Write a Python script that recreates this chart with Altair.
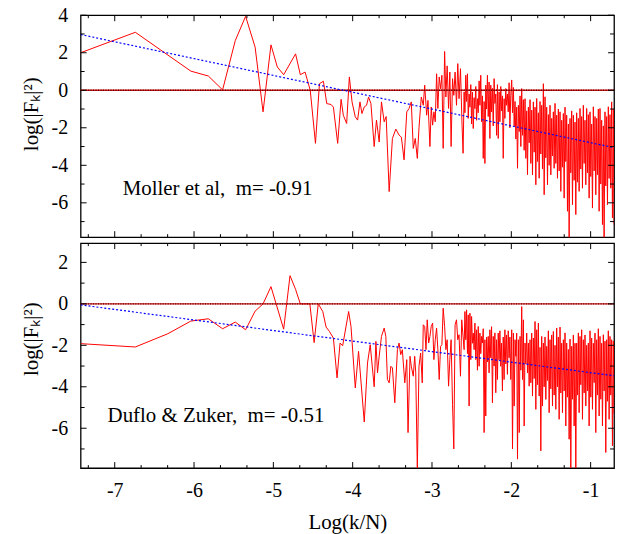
import altair as alt
import pandas as pd

X_DOMAIN = [-7.43, -0.705]
TOP_Y_DOMAIN = [-7.83, 4.0]
BOT_Y_DOMAIN = [-7.92, 2.93]

# (Log(k/N), log(|F_k|^2)) - Moller et al, low-k part (x < -2.6)
moller_points = [
    (-7.43, 2.00), (-6.74, 3.09), (-6.04, 1.02), (-5.82, 0.76), (-5.64, 0.02),
    (-5.48, 2.65), (-5.35, 3.94), (-5.23, 2.30), (-5.13, -1.15), (-5.03, 2.42),
    (-4.95, 1.24), (-4.87, 0.83), (-4.72, 1.94), (-4.66, 0.83), (-4.60, 0.97),
    (-4.535, 0.00), (-4.469, -2.83), (-4.419, 0.35), (-4.369, 0.48), (-4.327, -0.71),
    (-4.272, -0.76), (-4.243, -0.90), (-4.189, -2.83), (-4.146, -0.48), (-4.118, -1.33),
    (-4.076, -1.77), (-4.042, 0.71), (-4.008, -0.62), (-3.967, -1.42), (-3.938, -1.59),
    (-3.908, -0.62), (-3.883, -1.24), (-3.854, -0.89), (-3.825, -0.80), (-3.800, -0.36),
    (-3.770, -0.71), (-3.729, -3.00), (-3.700, -1.59), (-3.666, -2.76), (-3.637, -0.62),
    (-3.603, -1.68), (-3.578, -1.40), (-3.540, -5.40), (-3.499, -2.57), (-3.456, -2.07),
    (-3.415, -2.39), (-3.386, -2.50), (-3.352, -3.71), (-3.318, -1.15), (-3.289, -0.97),
    (-3.261, -0.62), (-3.236, -3.10), (-3.211, -2.57), (-3.185, -3.63), (-3.164, -2.00),
    (-3.135, -0.36), (-3.110, -0.80), (-3.092, 0.27), (-3.067, -1.33), (-3.051, -0.54),
    (-3.026, -3.00), (-3.010, -0.89), (-2.992, -1.86), (-2.976, -1.15), (-2.959, -1.68),
    (-2.942, 0.88), (-2.926, -0.97), (-2.909, 0.71), (-2.892, 0.08), (-2.875, 0.80),
    (-2.859, -3.10), (-2.841, 2.07), (-2.825, -0.36), (-2.809, 1.30), (-2.791, -0.97),
    (-2.775, 0.97), (-2.759, -3.00), (-2.741, 0.62), (-2.725, -0.27), (-2.709, 0.97),
    (-2.691, -0.80), (-2.675, 1.42), (-2.659, -0.45), (-2.641, 1.15), (-2.621, -1.86),
    (-2.608, -3.36),
]

# Duflo & Zuker, low-k part (x < -2.6)
duflo_points = [
    (-7.43, -1.92), (-6.74, -2.08), (-6.33, -1.44), (-6.04, -0.83), (-5.82, -0.72),
    (-5.64, -1.20), (-5.48, -0.88), (-5.35, -1.25), (-5.23, -0.35), (-5.13, 0.00),
    (-5.03, 0.83), (-4.87, -1.22), (-4.79, 1.36), (-4.72, 0.70), (-4.66, 0.00),
    (-4.60, 0.00), (-4.54, 0.00), (-4.486, -1.87), (-4.434, 0.00), (-4.377, -0.37),
    (-4.335, -1.12), (-4.293, -1.33), (-4.243, -1.65), (-4.197, -3.57), (-4.159, -1.89),
    (-4.126, -2.02), (-4.051, -0.37), (-4.021, -1.09), (-3.967, -4.05), (-3.926, -2.29),
    (-3.854, -5.70), (-3.813, -2.85), (-3.779, -1.97), (-3.729, -4.00), (-3.707, -1.81),
    (-3.687, -3.33), (-3.666, -2.53), (-3.637, -1.57), (-3.603, -1.17), (-3.582, -1.57),
    (-3.562, -3.65), (-3.540, -3.81), (-3.519, -3.01), (-3.499, -3.09), (-3.469, -4.77),
    (-3.436, -2.21), (-3.415, -1.89), (-3.394, -2.45), (-3.374, -2.21), (-3.343, -3.81),
    (-3.318, -2.69), (-3.302, -6.21), (-3.277, -2.53), (-3.261, -3.01), (-3.236, -3.49),
    (-3.218, -2.53), (-3.205, -3.33), (-3.185, -7.97), (-3.164, -3.01), (-3.143, -2.37),
    (-3.123, -3.81), (-3.110, -1.01), (-3.092, -1.09), (-3.076, -2.21), (-3.060, -0.77),
    (-3.042, -1.89), (-3.026, -1.57), (-3.010, -1.09), (-2.992, -0.93), (-2.976, -2.69),
    (-2.959, -1.73), (-2.942, -1.17), (-2.926, -2.21), (-2.909, -3.65), (-2.892, -2.05),
    (-2.875, -1.97), (-2.859, -0.21), (-2.841, -1.09), (-2.825, -2.21), (-2.809, -1.73),
    (-2.791, -3.97), (-2.775, -2.69), (-2.759, -1.73), (-2.741, -4.85), (-2.725, -7.00),
    (-2.709, -1.01), (-2.691, -0.77), (-2.675, -1.73), (-2.659, -1.49), (-2.641, -3.49),
    (-2.625, -0.77),
]

# middle part (-2.6 <= x < -2), shared x positions
mid_x = [
    -2.595, -2.585, -2.574, -2.564, -2.553, -2.543, -2.532, -2.522, -2.511, -2.501,
    -2.490, -2.480, -2.469, -2.459, -2.448, -2.438, -2.427, -2.417, -2.406, -2.396,
    -2.385, -2.375, -2.364, -2.354, -2.343, -2.333, -2.322, -2.312, -2.301, -2.291,
    -2.280, -2.270, -2.259, -2.249, -2.238, -2.228, -2.217, -2.207, -2.196, -2.186,
    -2.175, -2.165, -2.154, -2.144, -2.133, -2.123, -2.112, -2.102, -2.091, -2.081,
    -2.070, -2.060, -2.049, -2.039, -2.028, -2.018, -2.007,
]
moller_mid_y = [
    -0.09, -1.20, 0.80, -0.60, 0.88, -1.50, -0.20, -0.90, 0.30, -1.80,
    -0.10, -2.04, -0.40, -0.98, 0.20, -1.60, -0.45, -1.20, 0.50, -0.80,
    0.80, -1.68, -0.30, -3.63, -0.60, -3.90, 0.27, -1.00, 0.80, -1.40,
    0.44, -2.57, 0.27, -1.15, 0.10, -1.90, 0.62, -0.70, -0.20, -2.40,
    0.30, -2.57, -0.09, -1.68, 0.20, -1.10, -0.30, -3.63, -0.45, -1.50,
    0.09, -0.80, -0.20, -1.15, 0.40, -2.00, -0.27,
]
duflo_mid_y = [
    -2.21, -0.37, -1.73, -0.29, -2.40, -0.53, -4.93, -0.45, -2.69, -0.61,
    -1.90, -1.41, -2.21, -0.93, -2.69, -1.25, -3.20, -1.09, -3.01, -1.41,
    -2.40, -1.57, -1.89, -1.20, -6.21, -1.73, -5.41, -1.60, -2.80, -1.57,
    -3.33, -1.25, -2.60, -1.10, -4.77, -1.57, -3.00, -1.40, -4.29, -1.73,
    -3.65, -1.41, -2.70, -1.30, -3.01, -1.89, -4.20, -1.60, -3.65, -1.25,
    -2.90, -1.50, -3.40, -1.30, -2.60, -1.60, -3.65,
]

# dense high-k part (x >= -2), shared x positions
dense_x = [
    -1.995, -1.985, -1.974, -1.964, -1.953, -1.943, -1.932, -1.922, -1.911, -1.900,
    -1.890, -1.880, -1.869, -1.859, -1.848, -1.838, -1.827, -1.817, -1.806, -1.796,
    -1.785, -1.775, -1.764, -1.754, -1.743, -1.733, -1.722, -1.712, -1.701, -1.691,
    -1.680, -1.670, -1.659, -1.649, -1.638, -1.628, -1.617, -1.607, -1.596, -1.586,
    -1.575, -1.565, -1.554, -1.544, -1.533, -1.523, -1.512, -1.502, -1.491, -1.481,
    -1.470, -1.460, -1.449, -1.439, -1.428, -1.418, -1.407, -1.397, -1.386, -1.376,
    -1.365, -1.355, -1.344, -1.334, -1.323, -1.313, -1.302, -1.292, -1.281, -1.271,
    -1.260, -1.250, -1.239, -1.229, -1.218, -1.208, -1.197, -1.187, -1.176, -1.166,
    -1.155, -1.145, -1.134, -1.124, -1.113, -1.103, -1.092, -1.082, -1.071, -1.061,
    -1.050, -1.040, -1.029, -1.019, -1.008, -0.998, -0.987, -0.977, -0.966, -0.956,
    -0.945, -0.935, -0.924, -0.914, -0.903, -0.893, -0.882, -0.872, -0.861, -0.851,
    -0.840, -0.830, -0.819, -0.809, -0.798, -0.788, -0.777, -0.767, -0.756, -0.746,
    -0.735, -0.725, -0.714, -0.705,
]
moller_dense_y = [
    0.55, -1.20, 0.15, -1.90, -0.60, -2.60, -0.90, -4.16, -0.80, -2.20,
    -0.30, -3.00, 0.09, -2.40, -0.50, -3.20, -0.45, -3.63, -1.10, -4.50,
    -0.90, -2.80, -0.50, -3.90, -1.06, -4.51, -0.62, -3.30, -0.90, -5.04,
    -0.44, -3.80, -1.20, -4.69, -0.60, -3.40, -0.80, -4.20, 0.35, -5.57,
    -0.35, -3.60, -0.90, -5.04, -1.30, -4.00, -0.80, -4.51, -1.50, -3.50,
    -1.15, -4.16, -0.70, -3.90, -1.33, -4.69, -1.00, -4.30, -1.15, -5.39,
    -1.60, -4.10, -1.24, -5.75, -0.90, -3.80, -1.33, -6.45, -1.80, -8.04,
    -1.50, -4.40, -1.10, -6.10, -1.33, -4.80, -1.70, -6.63, -1.20, -4.90,
    -1.50, -5.39, -0.97, -4.20, -1.40, -5.22, -0.80, -3.90, -1.60, -5.04,
    -0.97, -4.40, -1.30, -5.75, -1.15, -4.60, -1.80, -6.28, -0.88, -4.30,
    -1.40, -5.57, -1.50, -4.50, -1.00, -6.45, -0.97, -5.00, -1.60, -7.16,
    -1.90, -8.04, -1.15, -5.10, -1.40, -6.10, -0.88, -4.70, -1.30, -5.22,
    -0.62, -6.81, -1.00, -7.16,
]
duflo_dense_y = [
    -1.25, -7.00, -1.41, -4.93, -1.73, -2.53, -1.41, -7.49, -1.73, -6.21,
    -1.57, -3.20, -0.13, -3.65, -0.77, -5.89, -1.89, -2.90, -1.41, -3.33,
    -1.89, -3.97, -1.73, -3.81, -1.41, -4.45, -1.65, -3.60, -0.85, -5.09,
    -1.25, -3.90, -0.93, -4.45, -2.10, -7.09, -1.57, -4.93, -1.89, -4.00,
    -1.60, -4.61, -2.05, -3.70, -1.30, -5.25, -1.73, -4.10, -1.50, -4.93,
    -1.33, -4.40, -2.00, -5.09, -1.17, -4.00, -1.60, -5.57, -1.12, -4.30,
    -1.90, -5.25, -1.73, -4.20, -1.40, -5.89, -1.89, -4.50, -2.20, -6.53,
    -1.70, -7.97, -2.05, -4.60, -1.50, -5.89, -1.90, -7.97, -1.89, -4.40,
    -1.40, -5.25, -1.57, -3.90, -1.25, -5.57, -1.73, -4.30, -1.50, -4.93,
    -2.00, -4.20, -1.89, -5.89, -1.30, -4.50, -1.65, -5.09, -1.90, -3.80,
    -1.41, -6.21, -1.73, -4.40, -1.20, -5.41, -1.57, -4.60, -1.90, -5.89,
    -1.49, -4.20, -1.80, -7.17, -1.73, -4.70, -1.30, -5.57, -1.57, -4.40,
    -1.73, -6.85, -1.80, -5.30,
]

moller_fit_x = [-7.43, -0.705]
moller_fit_y = [2.97, -3.06]
duflo_fit_x = [-7.43, -0.705]
duflo_fit_y = [-0.05, -3.47]

zero_level = [0]

x_major = [-7, -6, -5, -4, -3, -2, -1]
x_minor = [-7.333, -6.667, -6.333, -5.667, -5.333, -4.667, -4.333,
           -3.667, -3.333, -2.667, -2.333, -1.667, -1.333]
top_y_major = [-6, -4, -2, 0, 2, 4]
top_y_minor = [-7, -5, -3, -1, 1, 3]
bot_y_major = [-6, -4, -2, 0, 2]
bot_y_minor = [-7, -5, -3, -1, 1]

moller_label = ["Moller et al,\u00a0\u00a0m= -0.91"]
moller_label_pos = [-6.90, -5.25]
duflo_label = ["Duflo & Zuker,\u00a0\u00a0m= -0.51"]
duflo_label_pos = [-7.09, -5.42]

Y_TITLE = "log(|Fₖ|²)"
X_TITLE = "Log(k/N)"

W = 536
FONT = "Liberation Serif"
FS = 20


def panel(points, mid_y, dense_y, fit_x, fit_y, ydom, h, ymaj, ymin, label, lpos, title_y, bottom):
    xs = alt.Scale(domain=X_DOMAIN, nice=False, zero=False)
    ys = alt.Scale(domain=ydom, nice=False, zero=False)
    rows = list(points) + list(zip(mid_x, mid_y)) + list(zip(dense_x, dense_y))
    df = pd.DataFrame(rows, columns=["x", "y"])
    if bottom:
        xaxis = alt.Axis(values=x_major, title=X_TITLE, tickSize=0, domain=False, grid=False,
                         labelExpr="'' + datum.value", labelFont=FONT, labelFontSize=FS,
                         labelPadding=13, labelColor="black", labelFlush=False,
                         titleFont=FONT, titleFontSize=21, titleFontWeight="normal",
                         titleColor="black", titleBaseline="middle", titleY=55)
    yaxis = alt.Axis(values=ymaj, title=Y_TITLE, tickSize=0, domain=False, grid=False,
                     labelExpr="'' + datum.value", labelFont=FONT, labelFontSize=FS,
                     labelPadding=13, labelColor="black", labelFlush=False,
                     titleFont=FONT, titleFontSize=21, titleFontWeight="normal",
                     titleColor="black", titleBaseline="middle", titleAlign="center",
                     titleX=-49, titleY=title_y)

    def X(**kw):
        if bottom:
            return alt.X("x:Q", scale=xs, **kw)
        return alt.X("x:Q", scale=xs, axis=None)

    def Y(**kw):
        return alt.Y("y:Q", scale=ys, **kw)

    data_line = alt.Chart(df).mark_line(color="#ff0000", strokeWidth=1, clip=True).encode(
        x=X(axis=xaxis) if bottom else X(),
        y=Y(axis=yaxis),
        order=alt.Order("x:Q"),
    )
    zero_df = pd.DataFrame({"y": zero_level})
    zero = alt.Chart(zero_df).mark_rule(color="#d01010", strokeWidth=1.3).encode(y=Y())
    zero_dots = alt.Chart(zero_df).mark_rule(
        color="#5a0000", strokeWidth=1.3, strokeDash=[1, 1.5]
    ).encode(y=Y())
    fit = alt.Chart(pd.DataFrame({"x": fit_x, "y": fit_y})).mark_line(
        color="#0000ff", strokeWidth=1.2, strokeDash=[2, 2], clip=True
    ).encode(x=X(), y=Y())
    text = alt.Chart(pd.DataFrame({"x": [lpos[0]], "y": [lpos[1]], "t": label})).mark_text(
        align="left", baseline="middle", font=FONT, fontSize=21, color="black"
    ).encode(x=X(), y=Y(), text="t:N")

    layers = [data_line, zero, zero_dots, fit, text]
    for vals, ln in ((x_major, 6), (x_minor, 3)):
        d = alt.Chart(pd.DataFrame({"x": vals})).mark_rule(color="black", strokeWidth=1)
        layers.append(d.encode(x=X(), y=alt.value(h), y2=alt.value(h - ln)))
        layers.append(d.encode(x=X(), y=alt.value(0), y2=alt.value(ln)))
    for vals, ln in ((ymaj, 6), (ymin, 4)):
        d = alt.Chart(pd.DataFrame({"y": vals})).mark_rule(color="black", strokeWidth=1)
        layers.append(d.encode(y=Y(), x=alt.value(0), x2=alt.value(ln)))
        layers.append(d.encode(y=Y(), x=alt.value(W), x2=alt.value(W - ln)))

    return alt.layer(*layers).properties(width=W, height=h)


top = panel(moller_points, moller_mid_y, moller_dense_y, moller_fit_x, moller_fit_y,
            TOP_Y_DOMAIN, 223, top_y_major, top_y_minor, moller_label, moller_label_pos, 99, False)
bottom = panel(duflo_points, duflo_mid_y, duflo_dense_y, duflo_fit_x, duflo_fit_y,
               BOT_Y_DOMAIN, 226, bot_y_major, bot_y_minor, duflo_label, duflo_label_pos, 96, True)

chart = alt.vconcat(top, bottom, spacing=2).properties(
    padding={"left": 20, "top": 3, "right": 6, "bottom": 2},
    background="white",
).configure_view(stroke="black", strokeWidth=1.3)

chart.save("out.html", embed_options={"renderer": "svg", "actions": False})
